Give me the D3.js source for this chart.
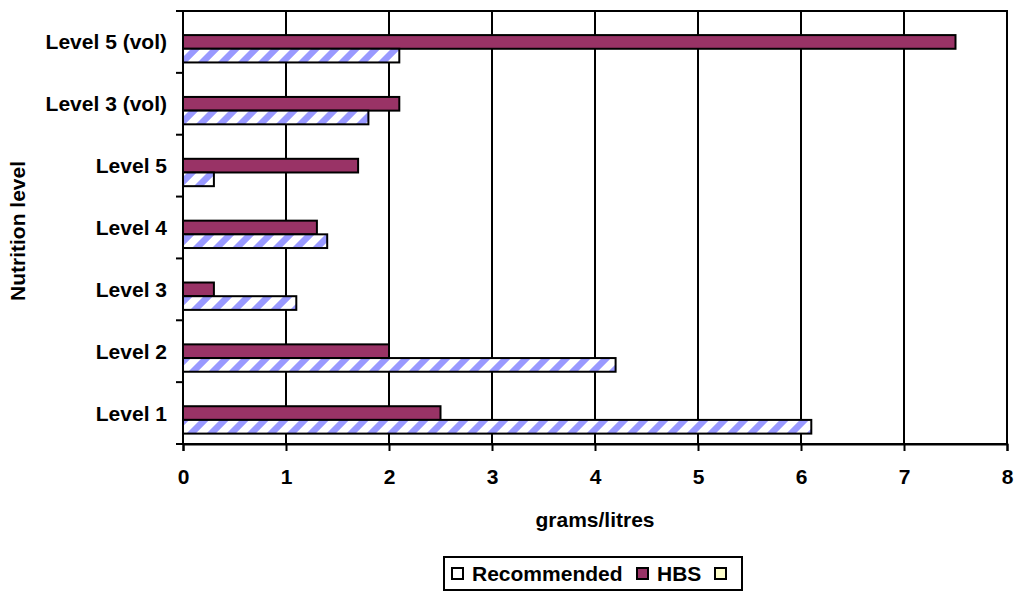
<!DOCTYPE html>
<html>
<head>
<meta charset="utf-8">
<script src="https://cdn.jsdelivr.net/npm/d3@7/dist/d3.min.js"></script>
<style>
  html, body { margin: 0; padding: 0; background: #fff; }
  svg { display: block; }
  text { font-family: "Liberation Sans", Arial, sans-serif; font-weight: bold; fill: #000; }
</style>
</head>
<body>
<svg id="chart" width="1017" height="592"></svg>
<script>
// Nutrition levels, listed bottom to top as drawn
const categories = ["Level 1", "Level 2", "Level 3", "Level 4", "Level 5", "Level 3 (vol)", "Level 5 (vol)"];
// grams/litres per level
const recommended = [6.1, 4.2, 1.1, 1.4, 0.3, 1.8, 2.1];
const hbs = [2.5, 2.0, 0.3, 1.3, 1.7, 2.1, 7.5];
// third series exists in the legend only
const seriesNames = ["Recommended", "HBS", ""];
const xTicks = [0, 1, 2, 3, 4, 5, 6, 7, 8];

const FONT = 21;
const svg = d3.select("#chart");
const plot = { left: 183, right: 1007, top: 11, bottom: 444 };

// hatched fill for the Recommended bars
const defs = svg.append("defs");
const pat = defs.append("pattern")
  .attr("id", "hatch")
  .attr("patternUnits", "userSpaceOnUse")
  .attr("width", 14.14).attr("height", 14.14)
  .attr("patternTransform", "rotate(45)");
pat.append("rect").attr("width", 14.14).attr("height", 14.14).attr("fill", "#fff");
pat.append("rect").attr("width", 6.6).attr("height", 14.14).attr("fill", "#9999FF");

const x = d3.scaleLinear().domain([0, 8]).range([plot.left, plot.right]);
const y = d3.scaleBand().domain(categories.slice().reverse()).range([plot.top, plot.bottom]).padding(0);
// slots within each category: empty third series on top, then HBS, then Recommended
const slot = d3.scaleBand().domain(["s3", "HBS", "Recommended"]).range([0, y.bandwidth()])
  .paddingInner(0).paddingOuter(0.76);

// vertical gridlines
svg.append("g").selectAll("line")
  .data(xTicks.filter(t => t > 0 && t < 8))
  .join("line")
  .attr("x1", d => x(d)).attr("x2", d => x(d))
  .attr("y1", plot.top).attr("y2", plot.bottom)
  .attr("stroke", "#000").attr("stroke-width", 2);

// plot frame
svg.append("rect")
  .attr("x", plot.left).attr("y", plot.top)
  .attr("width", plot.right - plot.left).attr("height", plot.bottom - plot.top)
  .attr("fill", "none").attr("stroke", "#000").attr("stroke-width", 2);

const rows = categories.map((c, i) => ({ cat: c, rec: recommended[i], hbs: hbs[i] }));

// HBS bars
svg.append("g").selectAll("rect")
  .data(rows).join("rect")
  .attr("x", x(0))
  .attr("y", d => y(d.cat) + slot("HBS"))
  .attr("width", d => x(d.hbs) - x(0))
  .attr("height", slot.bandwidth())
  .attr("fill", "#993366").attr("stroke", "#000").attr("stroke-width", 2);

// Recommended bars
svg.append("g").selectAll("rect")
  .data(rows).join("rect")
  .attr("x", x(0))
  .attr("y", d => y(d.cat) + slot("Recommended"))
  .attr("width", d => x(d.rec) - x(0))
  .attr("height", slot.bandwidth())
  .attr("fill", "url(#hatch)").attr("stroke", "#000").attr("stroke-width", 2);

// x axis
const xAxis = svg.append("g")
  .attr("transform", `translate(0,${plot.bottom})`)
  .call(d3.axisBottom(x).tickValues(xTicks).tickSize(7).tickPadding(18).tickFormat(d3.format("d")));
xAxis.select(".domain").attr("stroke", "#000").attr("stroke-width", 2);
xAxis.selectAll(".tick line").attr("stroke", "#000").attr("stroke-width", 2);
xAxis.selectAll("text").attr("font-size", FONT).attr("font-family", "Liberation Sans, Arial, sans-serif").attr("font-weight", "bold");

// y axis: ticks at category boundaries, labels at centers
const yAxis = svg.append("g").attr("transform", `translate(${plot.left},0)`);
const bounds = d3.range(categories.length + 1).map(i => plot.top + i * y.step());
yAxis.append("line")
  .attr("x1", 0).attr("x2", 0).attr("y1", plot.top).attr("y2", plot.bottom)
  .attr("stroke", "#000").attr("stroke-width", 2);
yAxis.selectAll("line.tk").data(bounds).join("line")
  .attr("class", "tk")
  .attr("x1", -7).attr("x2", 0).attr("y1", d => d).attr("y2", d => d)
  .attr("stroke", "#000").attr("stroke-width", 2);
yAxis.selectAll("text").data(categories).join("text")
  .attr("x", -16)
  .attr("y", d => y(d) + y.bandwidth() / 2)
  .attr("text-anchor", "end")
  .attr("dominant-baseline", "central")
  .attr("font-size", FONT)
  .text(d => d);

// axis titles
svg.append("text")
  .attr("x", (plot.left + plot.right) / 2).attr("y", 527)
  .attr("text-anchor", "middle").attr("font-size", FONT)
  .text("grams/litres");
svg.append("text")
  .attr("transform", `translate(25,231) rotate(-90)`)
  .attr("text-anchor", "middle").attr("font-size", FONT)
  .text("Nutrition level");

// legend
const legend = svg.append("g");
legend.append("rect")
  .attr("x", 444).attr("y", 557).attr("width", 298).attr("height", 33)
  .attr("fill", "#fff").attr("stroke", "#000").attr("stroke-width", 2);
const legendItems = [
  { name: seriesNames[0], fill: "#fff", x: 452 },
  { name: seriesNames[1], fill: "#993366", x: 637 },
  { name: seriesNames[2], fill: "#FFFFCC", x: 715 }
];
legendItems.forEach(it => {
  legend.append("rect")
    .attr("x", it.x).attr("y", 568).attr("width", 11).attr("height", 11)
    .attr("fill", it.fill).attr("stroke", "#000").attr("stroke-width", 2);
  if (it.name) {
    legend.append("text")
      .attr("x", it.x + 20).attr("y", 581)
      .attr("font-size", FONT)
      .text(it.name);
  }
});
</script>
</body>
</html>
